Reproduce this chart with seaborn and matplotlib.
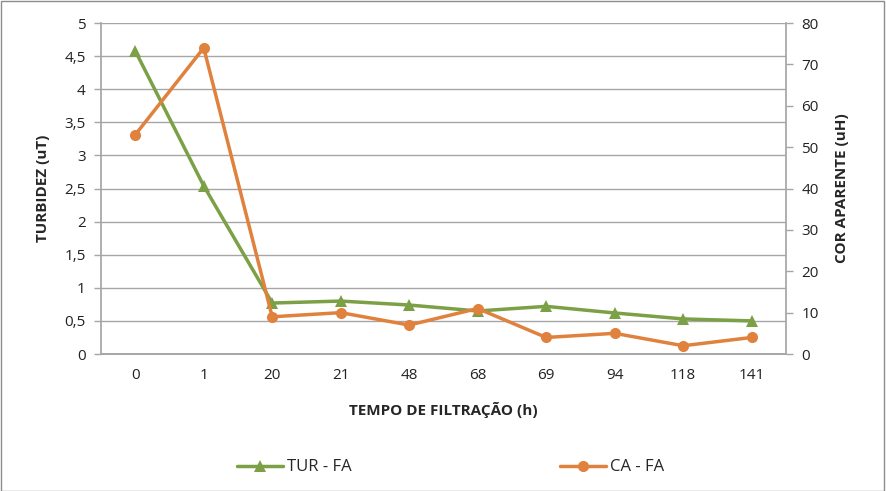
import matplotlib
matplotlib.use("Agg")
import matplotlib.pyplot as plt
from matplotlib.patches import Rectangle
import numpy as np
import pandas as pd
import seaborn as sns

hours = ["0", "1", "20", "21", "48", "68", "69", "94", "118", "141"]
turbidez = [4.58, 2.54, 0.77, 0.80, 0.74, 0.65, 0.72, 0.62, 0.53, 0.50]
cor_aparente = [53, 74, 9, 10, 7, 11, 4, 5, 2, 4]

green = "#7BA045"
orange = "#E0823D"
grid_gray = "#A6A6A6"

sns.set_theme(style="white")
plt.rcParams["font.family"] = ["Open Sans", "DejaVu Sans"]

df = pd.DataFrame({"pos": np.arange(len(hours)), "tur": turbidez, "ca": cor_aparente})

fig = plt.figure(figsize=(8.86, 4.91), dpi=100)
fig.patches.append(Rectangle((0.001, 0.001), 0.997, 0.997, transform=fig.transFigure,
                             fill=False, edgecolor="#8C8C8C", linewidth=1.0))
ax = fig.add_axes([0.114, 0.279, 0.773, 0.674])
ax2 = ax.twinx()

sns.lineplot(data=df, x="pos", y="tur", ax=ax, color=green, linewidth=2.5,
             marker="^", markersize=10, markeredgewidth=0, label="TUR - FA", legend=False)
sns.lineplot(data=df, x="pos", y="ca", ax=ax2, color=orange, linewidth=2.5,
             marker="o", markersize=10, markeredgewidth=0, label="CA - FA", legend=False)

ax.set_xlim(-0.5, len(hours) - 0.5)
ax.set_ylim(0, 5)
ax2.set_ylim(0, 80)
ax.set_yticks(np.arange(0, 5.01, 0.5))
ax.set_yticklabels(["0", "0,5", "1", "1,5", "2", "2,5", "3", "3,5", "4", "4,5", "5"])
ax2.set_yticks(np.arange(0, 81, 10))

ax.set_xticks(np.arange(len(hours)))
ax.set_xticklabels(hours)
ax.set_xticks(np.arange(-0.5, len(hours), 1), minor=True)
ax.tick_params(axis="x", which="major", length=0, pad=10, labelsize=11, labelcolor="#222222")
ax.tick_params(axis="x", which="minor", length=6, width=1, color=grid_gray, direction="out")
ax.tick_params(axis="y", length=5, width=1, color=grid_gray, direction="out", labelsize=11,
               labelcolor="#222222", pad=6, left=True)
ax2.tick_params(axis="y", length=5, width=1, color=grid_gray, direction="out", labelsize=11,
                labelcolor="#222222", pad=6, right=True)

ax.grid(axis="y", color=grid_gray, linewidth=1)
ax.set_axisbelow(True)
for a in (ax, ax2):
    for s in a.spines.values():
        s.set_visible(False)
    a.spines["bottom"].set_visible(True)
    a.spines["bottom"].set_color(grid_gray)
ax.spines["left"].set_visible(True)
ax.spines["left"].set_color(grid_gray)
ax2.spines["right"].set_visible(True)
ax2.spines["right"].set_color(grid_gray)

ax.set_xlabel("TEMPO DE FILTRAÇÃO (h)", fontsize=11, fontweight="bold", labelpad=14)
ax.set_ylabel("TURBIDEZ (uT)", fontsize=11, fontweight="bold", labelpad=10)
ax2.set_ylabel("COR APARENTE (uH)", fontsize=11, fontweight="bold", labelpad=12)

h1, l1 = ax.get_legend_handles_labels()
h2, l2 = ax2.get_legend_handles_labels()
for h in h1 + h2:
    h.set_markersize(8)
fig.legend(h1 + h2, l1 + l2, loc="center", bbox_to_anchor=(0.508, 0.048), ncol=2,
           frameon=False, fontsize=12, columnspacing=12.5, handlelength=2.8, handletextpad=0.2)

fig.savefig("out.png", dpi=100)
